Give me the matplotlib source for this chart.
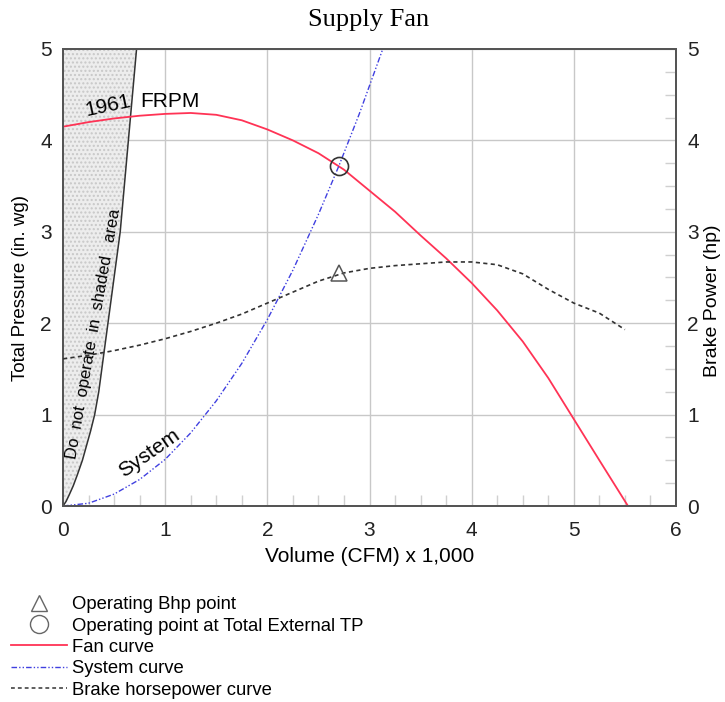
#!/usr/bin/env python3

import matplotlib.pyplot as plt
from matplotlib.lines import Line2D
from matplotlib.ticker import MultipleLocator

plt.rcParams["font.family"] = ["Liberation Sans", "DejaVu Sans"]

# Fan curve: total pressure (in. wg) vs volume (CFM x 1,000)
fan_cfm = [0.0, 0.25, 0.5, 0.75, 1.0, 1.25, 1.5, 1.75, 2.0, 2.25, 2.5, 2.75,
           3.0, 3.25, 3.5, 3.75, 4.0, 4.25, 4.5, 4.75, 5.0, 5.25, 5.53]
fan_tp = [4.15, 4.20, 4.24, 4.27, 4.29, 4.30, 4.28, 4.22, 4.12, 4.00, 3.86, 3.68,
          3.45, 3.22, 2.96, 2.71, 2.44, 2.14, 1.80, 1.40, 0.95, 0.50, 0.0]

# System curve
sys_cfm = [0.0, 0.25, 0.5, 0.75, 1.0, 1.25, 1.5, 1.75, 2.0, 2.25, 2.5, 2.7, 2.9, 3.13]
sys_tp = [0.0, 0.03, 0.13, 0.29, 0.51, 0.80, 1.15, 1.56, 2.04, 2.58, 3.19, 3.72, 4.29, 5.0]

# Brake horsepower curve (right axis)
bhp_cfm = [0.0, 0.25, 0.5, 0.75, 1.0, 1.25, 1.5, 1.75, 2.0, 2.25, 2.5, 2.75,
           3.0, 3.25, 3.5, 3.75, 4.0, 4.25, 4.5, 4.75, 5.0, 5.25, 5.5]
bhp_hp = [1.61, 1.65, 1.70, 1.76, 1.83, 1.91, 2.00, 2.10, 2.22, 2.34, 2.46, 2.55,
          2.60, 2.63, 2.65, 2.67, 2.67, 2.64, 2.54, 2.37, 2.22, 2.11, 1.93]

# Speed limit line (1961 RPM), left of it is the shaded area
lim_cfm = [0.0, 0.03, 0.06, 0.1, 0.14, 0.19, 0.23, 0.27, 0.31, 0.35, 0.38, 0.41,
           0.44, 0.47, 0.5, 0.53, 0.56, 0.58, 0.6, 0.62, 0.64, 0.66, 0.68, 0.7, 0.72]
lim_tp = [0.0, 0.05, 0.12, 0.22, 0.34, 0.5, 0.66, 0.82, 1.0, 1.25, 1.5, 1.75,
          2.0, 2.25, 2.5, 2.75, 3.0, 3.25, 3.5, 3.75, 4.0, 4.25, 4.5, 4.75, 5.0]

# Operating points
op_cfm = 2.7
op_tp = 3.72
op_bhp = 2.55

fig = plt.figure(figsize=(7.25, 7.02), dpi=100)
ax = fig.add_axes([63 / 725, 1 - 506 / 702, 613 / 725, 457 / 702])
ax2 = ax.twinx()

spine_col = "#555555"
grid_col = "#c8c8c8"

# shaded "do not operate" area
ax.fill_betweenx(lim_tp, 0, lim_cfm, facecolor="#ededed", edgecolor="#c8c8c8",
                 hatch="....", linewidth=0, zorder=1)
ax.plot(lim_cfm, lim_tp, color="#333333", linewidth=1.1, zorder=3)

ax.plot(fan_cfm, fan_tp, color="#ff3355", linewidth=1.3, zorder=4)
ax.plot(sys_cfm, sys_tp, color="#4040e0", linewidth=1.0,
        dashes=(4, 1.5, 1, 1.5, 1, 1.5), zorder=4)
ax.plot(op_cfm, op_tp, marker="o", markersize=13, markerfacecolor="none",
        markeredgecolor="#333333", markeredgewidth=1.2, zorder=5)

ax2.plot(bhp_cfm, bhp_hp, color="#333333", linewidth=1.2, dashes=(2.5, 2), zorder=4)
ax2.plot(op_cfm, op_bhp, marker="^", markersize=11, markerfacecolor="none",
         markeredgecolor="#555555", markeredgewidth=1.1, zorder=5)

for a in (ax, ax2):
    a.set_xlim(0, 6)
    a.set_ylim(0, 5)
    for s in a.spines.values():
        s.set_color(spine_col)
        s.set_linewidth(1.4)
    a.yaxis.set_minor_locator(MultipleLocator(0.25))
    a.tick_params(which="major", length=0, labelsize=15, pad=8, colors="#222222")
    a.tick_params(which="minor", direction="in", length=8, color="#d0d0d0", width=1)

ax.tick_params(axis="x", which="major", pad=11)
ax.xaxis.set_minor_locator(MultipleLocator(0.25))
ax.grid(True, which="major", color=grid_col, linewidth=1.0, zorder=0)
ax.set_axisbelow(True)

ax.set_xlabel("Volume (CFM) x 1,000", fontsize=15, labelpad=5)
ax.set_ylabel("Total Pressure (in. wg)", fontsize=13.5)
ax.yaxis.set_label_coords(-0.056, 0.477)
ax2.set_ylabel("Brake Power (hp)", fontsize=14)
ax2.yaxis.set_label_coords(1.045, 0.45)

fig.text(0.508, 0.971, "Supply Fan", ha="center", va="center", fontsize=19,
         family="Liberation Serif")

# annotations
ax.text(0.44, 4.38, "1961", fontsize=15, rotation=12, ha="center", va="center", zorder=6)
ax.text(1.05, 4.43, "FRPM", fontsize=15, ha="center", va="center", zorder=6)
ax.text(0.30, 1.88, "Do  not  operate  in  shaded   area", fontsize=12, rotation=80,
        ha="center", va="center", zorder=6)
ax.text(0.84, 0.58, "System", fontsize=15, rotation=35, ha="center", va="center", zorder=6)

handles = [
    Line2D([], [], linestyle="none", marker="^", markersize=12, markerfacecolor="none",
           markeredgecolor="#666666"),
    Line2D([], [], linestyle="none", marker="o", markersize=13, markerfacecolor="none",
           markeredgecolor="#666666"),
    Line2D([], [], color="#ff3355", linewidth=1.3),
    Line2D([], [], color="#4040e0", linewidth=1.0, dashes=(4, 1.5, 1, 1.5, 1, 1.5)),
    Line2D([], [], color="#333333", linewidth=1.1, dashes=(2.5, 2)),
]
labels = [
    "Operating Bhp point",
    "Operating point at Total External TP",
    "Fan curve",
    "System curve",
    "Brake horsepower curve",
]
fig.legend(handles, labels, loc="upper left", bbox_to_anchor=(0.0, 1 - 585 / 702),
           frameon=False, fontsize=13.3, handlelength=3.0, handletextpad=0.3,
           labelspacing=0.24, borderpad=0.3, borderaxespad=0.3)

fig.savefig("out.png", dpi=100)
